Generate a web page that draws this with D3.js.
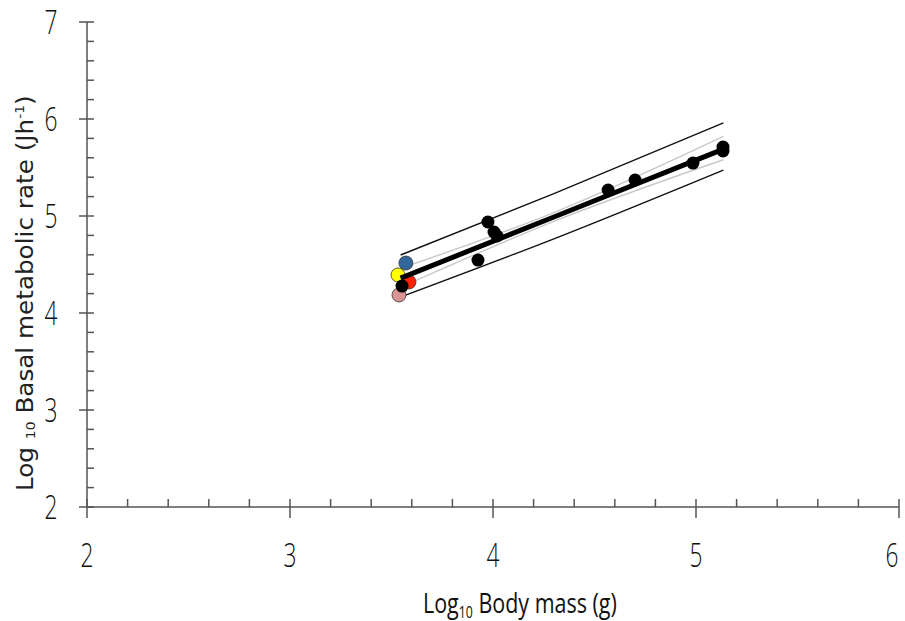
<!DOCTYPE html>
<html>
<head>
<meta charset="utf-8">
<script src="https://cdn.jsdelivr.net/npm/d3@7"></script>
<style>
  body { margin: 0; background: #fff; }
  svg { display: block; }
  .tick-label { font-family: "Open Sans", sans-serif; font-weight: 300; font-size: 33px; fill: #111; }
</style>
</head>
<body>
<svg width="905" height="621"></svg>
<script>
// body mass vs basal metabolic rate (both log10)
const massLog = [3.571, 3.532, 3.586, 3.552, 3.537, 3.926, 3.975, 4.005, 4.020, 4.567, 4.700, 4.985, 5.133, 5.133];
const bmrLog  = [4.515, 4.392, 4.320, 4.278, 4.186, 4.546, 4.938, 4.835, 4.794, 5.268, 5.371, 5.546, 5.711, 5.670];
const pointFill = ['#336699', '#ffff00', '#ff2200', '#000', '#d99594', '#000', '#000', '#000', '#000', '#000', '#000', '#000', '#000', '#000'];

// fitted line and the two bands, sampled at these masses
const bandX   = [3.545, 4.30, 5.135];
const fitY    = [4.360, 4.990, 5.690];
const ciUpper = [4.460, 5.035, 5.820];
const ciLower = [4.265, 4.945, 5.580];
const piUpper = [4.598, 5.230, 5.959];
const piLower = [4.165, 4.765, 5.474];

const xTicks = [2, 3, 4, 5, 6];
const yTicks = [2, 3, 4, 5, 6, 7];

const svg = d3.select('svg');
const x = d3.scaleLinear().domain([2, 6]).range([87, 899]);
const y = d3.scaleLinear().domain([2, 7]).range([507, 22]);
const x0 = x(2), y0 = y(2);
const axisColor = '#555';

// minor ticks: 5 divisions between majors
const xMinor = d3.range(2, 6, 0.2).filter(v => Math.abs(v - Math.round(v)) > 1e-6);
const yMinor = d3.range(2, 7, 0.2).filter(v => Math.abs(v - Math.round(v)) > 1e-6);

const axes = svg.append('g').attr('stroke', axisColor).attr('stroke-width', 1.5);
axes.append('line').attr('x1', x0).attr('x2', x(6)).attr('y1', y0).attr('y2', y0);
axes.append('line').attr('x1', x0).attr('x2', x0).attr('y1', y0).attr('y2', y(7));

axes.selectAll('.xmaj').data(xTicks).enter().append('line')
    .attr('x1', d => x(d)).attr('x2', d => x(d))
    .attr('y1', y0 - 8).attr('y2', y0 + 11);
axes.selectAll('.xmin').data(xMinor).enter().append('line')
    .attr('x1', d => x(d)).attr('x2', d => x(d))
    .attr('y1', y0 - 8).attr('y2', y0);
axes.selectAll('.ymaj').data(yTicks).enter().append('line')
    .attr('x1', x0 - 8).attr('x2', x0 + 7)
    .attr('y1', d => y(d)).attr('y2', d => y(d));
axes.selectAll('.ymin').data(yMinor).enter().append('line')
    .attr('x1', x0).attr('x2', x0 + 7)
    .attr('y1', d => y(d)).attr('y2', d => y(d));

// narrow digits; last one pulled in from the edge
svg.selectAll('.xlab').data(xTicks).enter().append('text')
    .attr('class', 'tick-label')
    .attr('x', d => Math.min(x(d), 892) - 6.5).attr('y', 567)
    .attr('textLength', 13).attr('lengthAdjust', 'spacingAndGlyphs')
    .text(d => d);
svg.selectAll('.ylab').data(yTicks).enter().append('text')
    .attr('class', 'tick-label')
    .attr('x', 44.5).attr('y', d => y(d) + 12)
    .attr('textLength', 13).attr('lengthAdjust', 'spacingAndGlyphs')
    .text(d => d);

// squeeze/stretch a title group to a given width
function fitWidth(g, target) {
  const w = g.node().getBBox().width;
  return target / w;
}

// x title
const xg = svg.append('g');
const xTitle = xg.append('text')
    .attr('font-family', '"Open Sans", sans-serif')
    .attr('font-size', 28).attr('fill', '#111');
xTitle.append('tspan').text('Log');
xTitle.append('tspan').attr('font-size', 16).attr('dy', 5).text('10');
xTitle.append('tspan').attr('dy', -5).text(' Body mass (g)');
xg.attr('transform', `translate(423,613) scale(${fitWidth(xg, 194)},1)`);

// y title
const yg = svg.append('g');
const yTitle = yg.append('text')
    .attr('font-family', '"DejaVu Sans", Verdana, sans-serif')
    .attr('font-size', 23).attr('fill', '#222');
yTitle.append('tspan').text('Log ');
yTitle.append('tspan').attr('font-size', 13).attr('dy', 2).text('10');
yTitle.append('tspan').attr('dy', -2).text(' Basal metabolic rate (Jh');
yTitle.append('tspan').attr('font-size', 13).attr('dy', -9).text('-1');
yTitle.append('tspan').attr('dy', 9).text(')');
yg.attr('transform', `translate(33,491) rotate(-90) scale(${fitWidth(yg, 396)},1)`);

// bands and fitted line
const line = d3.line().x(d => x(d[0])).y(d => y(d[1])).curve(d3.curveMonotoneX);
const pairs = ys => bandX.map((v, i) => [v, ys[i]]);

[[ciUpper, '#c8c8c8'], [ciLower, '#c8c8c8'], [piUpper, '#111'], [piLower, '#111']].forEach(([ys, c]) => {
  svg.append('path').attr('d', line(pairs(ys)))
      .attr('fill', 'none').attr('stroke', c).attr('stroke-width', 1.4);
});

const pts = massLog.map((v, i) => ({ x: v, y: bmrLog[i], c: pointFill[i] }));

svg.selectAll('.cpt').data(pts.filter(d => d.c !== '#000')).enter().append('circle')
    .attr('cx', d => x(d.x)).attr('cy', d => y(d.y)).attr('r', 7)
    .attr('fill', d => d.c).attr('stroke', '#333').attr('stroke-width', 0.8);

svg.append('path').attr('d', line(pairs(fitY)))
    .attr('fill', 'none').attr('stroke', '#000').attr('stroke-width', 5);

svg.selectAll('.bpt').data(pts.filter(d => d.c === '#000')).enter().append('circle')
    .attr('cx', d => x(d.x)).attr('cy', d => y(d.y)).attr('r', 6.5)
    .attr('fill', '#000');
</script>
</body>
</html>
